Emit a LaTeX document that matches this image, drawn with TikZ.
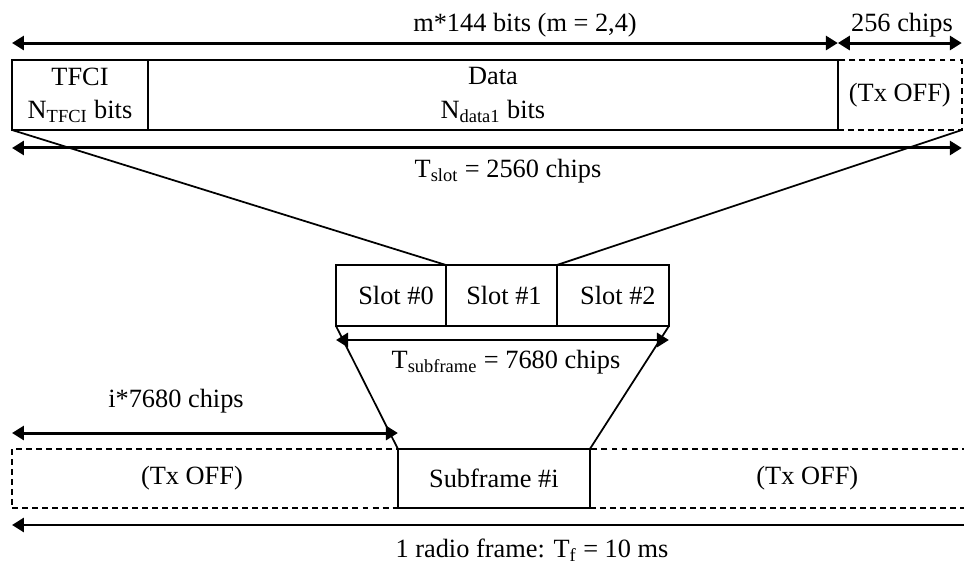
\documentclass[tikz,border=0pt]{standalone}
\usepackage{fontspec}
\setmainfont{Liberation Serif}
\usetikzlibrary{arrows.meta}
\begin{document}
\begin{tikzpicture}[x=0.02cm, y=-0.02cm, font=\fontsize{15}{19}\selectfont,
          fld/.style={draw, line width=0.8pt, anchor=north west, outer sep=0pt, inner sep=0pt, align=center},
          off/.style={fld, dash pattern=on 3.4pt off 2.3pt},
          dim/.style={{Triangle[length=0.24cm,width=0.28cm]}-{Triangle[length=0.24cm,width=0.28cm]}, line width=1.7pt},
          zoomline/.style={line width=1pt}]
        \path[use as bounding box, clip] (0,0) rectangle (964,566);
        % one slot
        \node[fld, minimum width=2.72cm, minimum height=1.4cm] (tfci) at (12,60) {TFCI\\N\textsubscript{TFCI} bits};
        \node[fld, minimum width=13.8cm, minimum height=1.4cm] (data) at (tfci.north east) {Data\\N\textsubscript{data1} bits};
        \node[off, minimum width=2.48cm, minimum height=1.4cm] (offa) at (data.north east) {(Tx OFF)};
        \draw[dim] ([yshift=0.34cm]tfci.north west) -- ([yshift=0.34cm]data.north east);
        \draw[dim] ([yshift=0.34cm]offa.north west) -- ([yshift=0.34cm]offa.north east);
        \draw[dim] ([yshift=-0.36cm]tfci.south west) -- ([yshift=-0.36cm]offa.south east);
        \node[anchor=base] (lbits) at (525,31) {m*144 bits (m = 2,4)};
        \node[anchor=base] (lchips) at (902,31) {256 chips};
        \node[anchor=base] (lslot) at (508,177) {T\textsubscript{slot} = 2560 chips};
        % one subframe
        \node[fld, minimum width=2.2cm, minimum height=1.22cm] (slot0) at (336,265) {\hspace{0.2cm}Slot \#0};
        \node[fld, minimum width=2.22cm, minimum height=1.22cm] (slot1) at (slot0.north east) {\hspace{0.1cm}Slot \#1};
        \node[fld, minimum width=2.24cm, minimum height=1.22cm] (slot2) at (slot1.north east) {\hspace{0.2cm}Slot \#2};
        \draw[zoomline] (tfci.south west) -- (slot1.north west);
        \draw[zoomline] (offa.south east) -- (slot2.north west);
        \draw[dim] ([yshift=-0.28cm]slot0.south west) -- ([yshift=-0.28cm]slot2.south east);
        \node[anchor=base] (lsub) at (506,368) {T\textsubscript{subframe} = 7680 chips};
        % one radio frame
        \node[off, minimum width=7.72cm, minimum height=1.18cm] (offl) at (12,449) {\hspace{-0.52cm}(Tx OFF)};
        \node[fld, minimum width=3.84cm, minimum height=1.18cm] (sub) at (offl.north east) {Subframe \#i};
        \node[off, minimum width=8.2cm, minimum height=1.18cm] (offr) at (sub.north east) {\hspace{0.5cm}(Tx OFF)};
        \draw[zoomline] (slot0.south west) -- (sub.north west);
        \draw[zoomline] (slot2.south east) -- (sub.north east);
        \draw[dim] ([yshift=0.32cm]offl.north west) -- ([yshift=0.32cm]offl.north east);
        \draw[dim] ([yshift=-0.34cm]offl.south west) -- ([yshift=-0.34cm]offr.south east);
        \node[anchor=base] (loff) at (176,407) {i*7680 chips};
        \node[anchor=base] (lframe) at (532,557) {1 radio frame: T\textsubscript{f} = 10 ms};
      \end{tikzpicture}
\end{document}
